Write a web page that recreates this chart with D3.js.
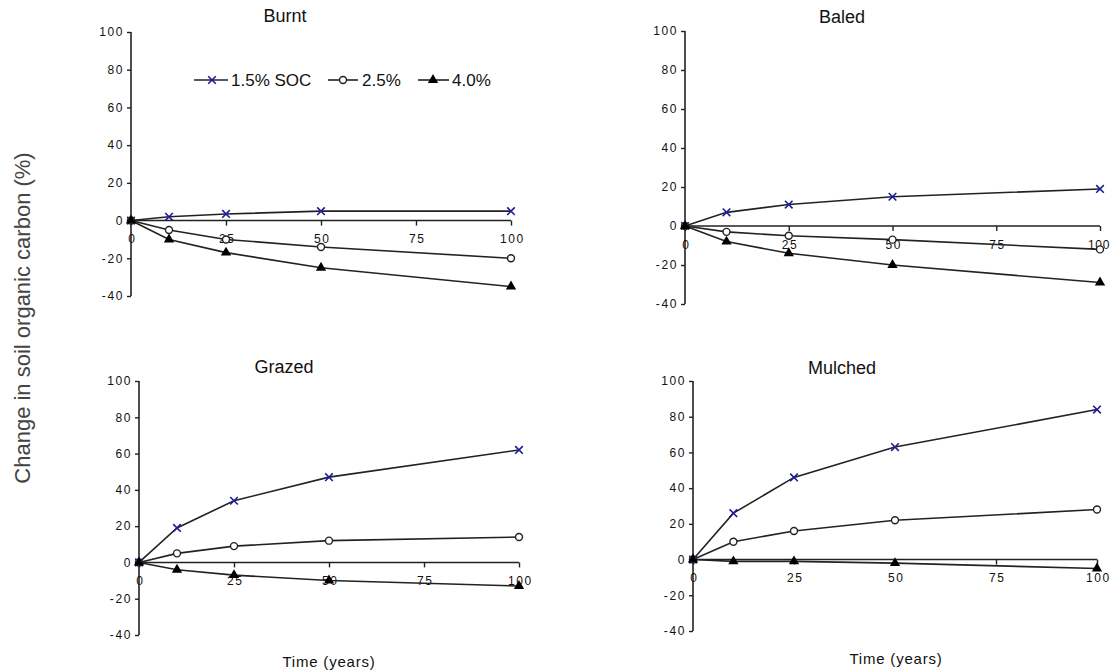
<!DOCTYPE html>
<html>
<head>
<meta charset="utf-8">
<script src="https://cdn.jsdelivr.net/npm/d3@7"></script>
<style>
  html, body { margin: 0; padding: 0; background: #fff; }
  svg { display: block; font-family: "Liberation Sans", Arial, sans-serif; }
</style>
</head>
<body>
<svg id="chart" width="1112" height="672"></svg>
<script>
// ---- data ----
const years = [0, 10, 25, 50, 100];
const xTicks = [0, 25, 50, 75, 100];
const yTicks = [-40, -20, 0, 20, 40, 60, 80, 100];
const seriesNames = ["1.5% SOC", "2.5%", "4.0%"];
const panelTitles = ["Burnt", "Baled", "Grazed", "Mulched"];

const burnt15 = [0, 2, 3.5, 5, 5];
const burnt25 = [0, -5, -10, -14, -20];
const burnt40 = [0, -10, -17, -25, -35];

const baled15 = [0, 7, 11, 15, 19];
const baled25 = [0, -3, -5, -7, -12];
const baled40 = [0, -8, -14, -20, -29];

const grazed15 = [0, 19, 34, 47, 62];
const grazed25 = [0, 5, 9, 12, 14];
const grazed40 = [0, -4, -7, -10, -13];

const mulched15 = [0, 26, 46, 63, 84];
const mulched25 = [0, 10, 16, 22, 28];
const mulched40 = [0, -1, -1, -2, -5];

const panelData = [
  [burnt15, burnt25, burnt40],
  [baled15, baled25, baled40],
  [grazed15, grazed25, grazed40],
  [mulched15, mulched25, mulched40]
];

// ---- layout ----
const layouts = [
  { x0: 131, x1: 511, yTop: 32, yBot: 296, titleX: 285, titleY: 22 },
  { x0: 685, x1: 1100, yTop: 31, yBot: 304, titleX: 842, titleY: 23, tightRight: true },
  { x0: 139, x1: 519, yTop: 381, yBot: 635, titleX: 284, titleY: 373, xlabX: 329, xlabY: 667 },
  { x0: 693, x1: 1097, yTop: 381, yBot: 631, titleX: 842, titleY: 374, xlabX: 896, xlabY: 664 }
];

const svg = d3.select("#chart");
const lineCol = "#222";
const xColor = "#1c1c9c";

function drawMarker(g, type, cx, cy) {
  if (type === 0) {
    const s = 3.8;
    g.append("path")
      .attr("d", `M${cx - s},${cy - s}L${cx + s},${cy + s}M${cx - s},${cy + s}L${cx + s},${cy - s}`)
      .attr("stroke", xColor).attr("stroke-width", 1.6).attr("fill", "none");
  } else if (type === 1) {
    g.append("circle").attr("cx", cx).attr("cy", cy).attr("r", 3.5)
      .attr("fill", "#fff").attr("stroke", lineCol).attr("stroke-width", 1.4);
  } else {
    g.append("path")
      .attr("d", d3.symbol().type(d3.symbolTriangle).size(46)())
      .attr("transform", `translate(${cx},${cy})`)
      .attr("fill", "#000");
  }
}

layouts.forEach((L, pi) => {
  const g = svg.append("g");
  const x = d3.scaleLinear().domain([0, 100]).range([L.x0, L.x1]);
  const y = d3.scaleLinear().domain([-40, 100]).range([L.yBot, L.yTop]);

  // y axis
  const yAxis = d3.axisLeft(y).tickValues(yTicks).tickSize(4).tickPadding(3)
    .tickFormat(d => String(d));
  const ya = g.append("g").attr("transform", `translate(${L.x0},0)`).call(yAxis);
  ya.select(".domain").attr("stroke", lineCol).attr("stroke-width", 1.6)
    .attr("d", `M0,${L.yTop}V${L.yBot}`);
  ya.selectAll(".tick line").attr("stroke", lineCol).attr("stroke-width", 1.4);
  ya.selectAll(".tick text").attr("fill", "#111").style("font-size", "12px")
    .style("letter-spacing", "1.6px");

  // x axis at y = 0
  const xAxis = d3.axisBottom(x).tickValues(xTicks).tickSize(5).tickPadding(9)
    .tickFormat(d => String(d));
  const xa = g.append("g").attr("transform", `translate(0,${y(0)})`).call(xAxis);
  xa.select(".domain").attr("stroke", lineCol).attr("stroke-width", 1.6)
    .attr("d", `M${L.x0},0H${L.x1}`);
  xa.selectAll(".tick line").attr("stroke", lineCol).attr("stroke-width", 1.4);
  xa.selectAll(".tick text").attr("fill", "#111").style("font-size", "12px")
    .style("letter-spacing", "1.6px").attr("dx", "0.8px");
  if (L.tightRight) {
    xa.selectAll(".tick text").filter(d => d === 100)
      .style("letter-spacing", "0.6px").attr("dx", "-1.5px");
  }

  // title
  g.append("text").attr("x", L.titleX).attr("y", L.titleY)
    .attr("text-anchor", "middle").style("font-size", "18px").attr("fill", "#111")
    .text(panelTitles[pi]);

  if (L.xlabX) {
    g.append("text").attr("x", L.xlabX).attr("y", L.xlabY)
      .attr("text-anchor", "middle").style("font-size", "15px").style("letter-spacing", "0.8px")
      .attr("fill", "#111").text("Time (years)");
  }

  // lines
  const line = d3.line().x((d, i) => x(years[i])).y(d => y(d));
  panelData[pi].forEach((vals) => {
    g.append("path").datum(vals).attr("d", line)
      .attr("fill", "none").attr("stroke", lineCol).attr("stroke-width", 1.6);
  });
  // markers
  panelData[pi].forEach((vals, si) => {
    vals.forEach((v, i) => drawMarker(g, si, x(years[i]), y(v)));
  });
});

// legend (inside Burnt panel)
const legend = svg.append("g");
const legendItems = [
  { x1: 194, x2: 228, mx: 212, tx: 231 },
  { x1: 328, x2: 358, mx: 343, tx: 362 },
  { x1: 418, x2: 449, mx: 433, tx: 452 }
];
const legY = 80;
legendItems.forEach((it, i) => {
  legend.append("line").attr("x1", it.x1).attr("x2", it.x2).attr("y1", legY).attr("y2", legY)
    .attr("stroke", lineCol).attr("stroke-width", 1.6);
  drawMarker(legend, i, it.mx, legY);
  legend.append("text").attr("x", it.tx).attr("y", legY + 6)
    .style("font-size", "17px").attr("fill", "#111")
    .text(seriesNames[i]);
});

// shared y label
svg.append("text")
  .attr("transform", "translate(30,318) rotate(-90)")
  .attr("text-anchor", "middle")
  .style("font-size", "22px").attr("fill", "#444")
  .text("Change in soil organic carbon (%)");
</script>
</body>
</html>
